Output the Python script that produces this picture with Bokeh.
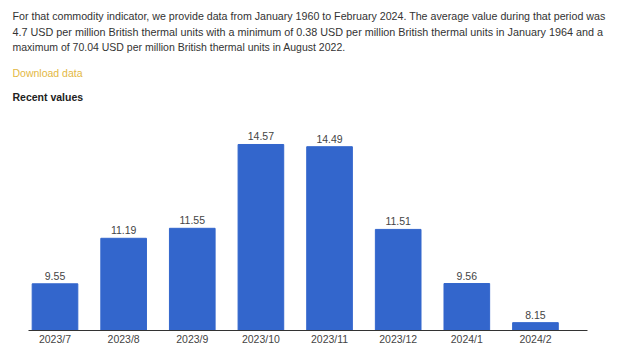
from bokeh.plotting import figure
from bokeh.models import Label, FixedTicker, ColumnDataSource, Range1d
from bokeh.embed import file_html
from bokeh.resources import INLINE
from bokeh.core.properties import value

categories = ["2023/7", "2023/8", "2023/9", "2023/10", "2023/11", "2023/12", "2024/1", "2024/2"]
values = [9.55, 11.19, 11.55, 14.57, 14.49, 11.51, 9.56, 8.15]
value_labels = ["9.55", "11.19", "11.55", "14.57", "14.49", "11.51", "9.56", "8.15"]

header_lines = [
    "For that commodity indicator, we provide data from January 1960 to February 2024. The average value during that period was",
    "4.7 USD per million British thermal units with a minimum of 0.38 USD per million British thermal units in January 1964 and a",
    "maximum of 70.04 USD per million British thermal units in August 2022.",
]
link_text = "Download data"
section_title = "Recent values"

FONT = "Liberation Sans"
Y_BASE = 7.867          # value at the chart baseline
AXIS_X0, AXIS_X1 = -0.386, 7.758   # extent of the baseline rule (category units)

idx = list(range(len(categories)))
src = ColumnDataSource(dict(x=idx, top=values, lab=value_labels))

W, H = 620, 350
p = figure(width=W, height=H, output_backend="svg", toolbar_location=None,
           x_range=Range1d(-0.794, 8.239), y_range=Range1d(7.831, 19.759),
           y_axis_location=None, min_border_left=0, min_border_right=0,
           min_border_top=0, min_border_bottom=19)
p.outline_line_color = None
p.xgrid.grid_line_color = None
p.ygrid.grid_line_color = None

p.vbar(x="x", top="top", bottom=Y_BASE, width=0.665, source=src,
       fill_color="#3366CC", line_color="#3366CC")
p.segment(x0=[AXIS_X0], y0=[Y_BASE], x1=[AXIS_X1], y1=[Y_BASE],
          line_color="#333333", line_width=1)
p.text(x="x", y="top", text="lab", source=src, text_align="center",
       text_baseline="bottom", y_offset=-4, text_font=value(FONT),
       text_font_size="10.5px", text_color="#444444")

ax = p.xaxis[0]
ax.ticker = FixedTicker(ticks=idx)
ax.major_label_overrides = {i: c for i, c in zip(idx, categories)}
ax.major_tick_line_color = None
ax.minor_tick_line_color = None
ax.major_tick_out = 0
ax.major_label_standoff = 1
ax.axis_line_color = None
ax.major_label_text_font = FONT
ax.major_label_text_font_size = "10.5px"
ax.major_label_text_color = "#444444"

ys = [309.5, 294, 278.5]
sizes = ["10.66px", "10.8px", "10.5px"]   # first two lines are justified in the original
for t, y, s in zip(header_lines, ys, sizes):
    p.add_layout(Label(x=12, y=y, x_units="screen", y_units="screen", text=t,
                       text_font=FONT, text_font_size=s, text_color="#333333"))
p.add_layout(Label(x=12, y=253, x_units="screen", y_units="screen", text=link_text,
                   text_font=FONT, text_font_size="10.5px", text_color="#E3B843"))
p.add_layout(Label(x=12, y=228.5, x_units="screen", y_units="screen", text=section_title,
                   text_font=FONT, text_font_size="10.5px", text_color="#222222",
                   text_font_style="bold"))

open("out.html", "w").write(file_html(p, INLINE))
